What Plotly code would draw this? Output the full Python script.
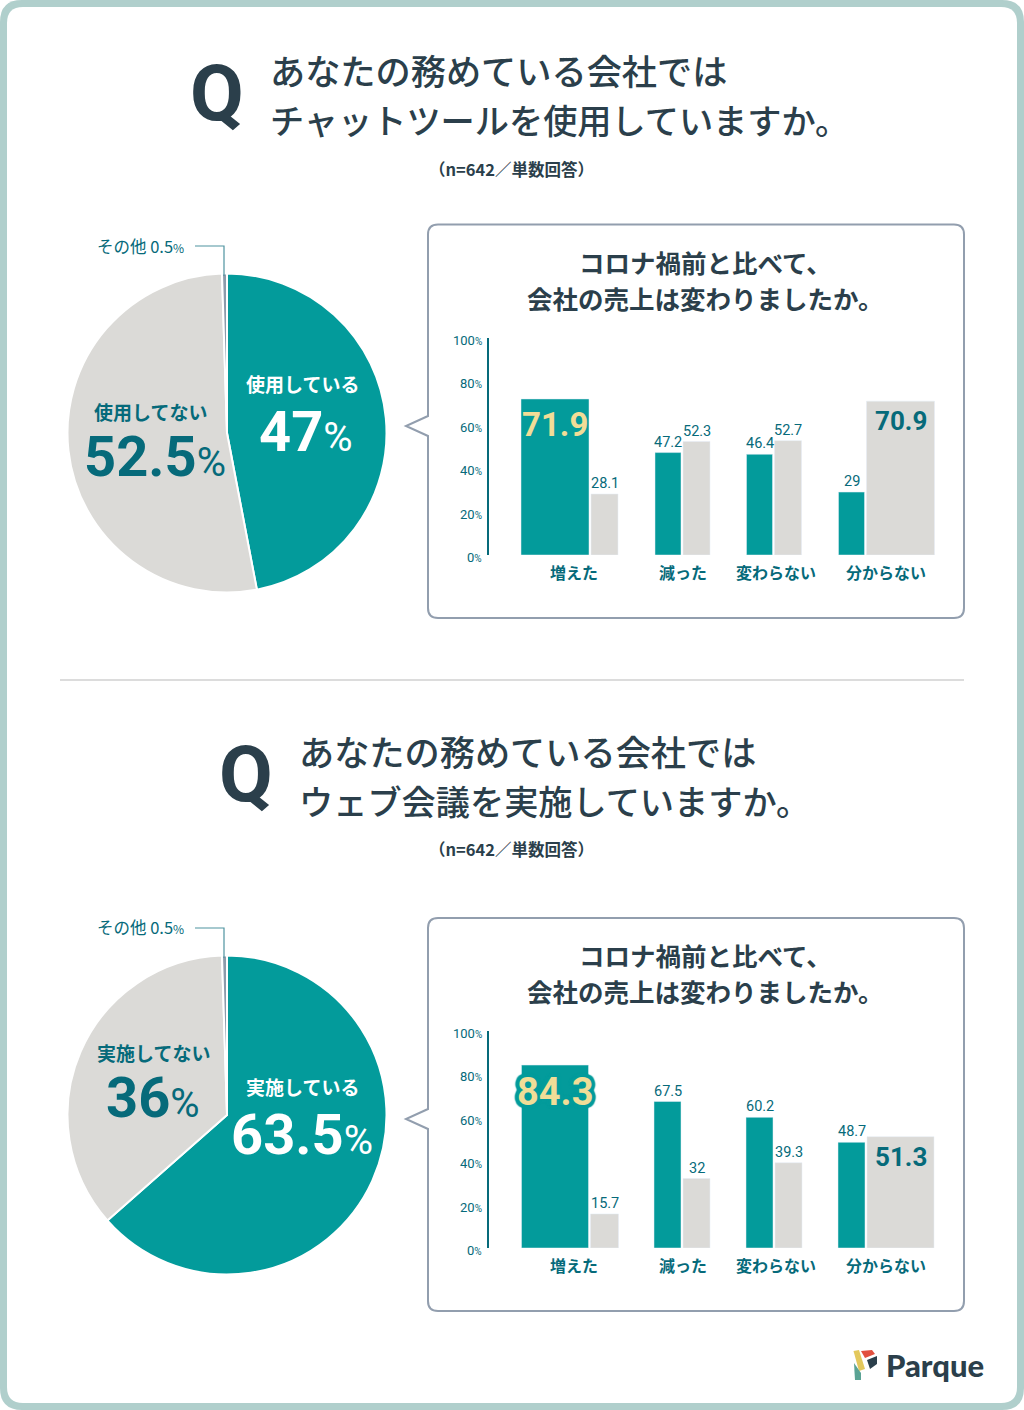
import plotly.graph_objects as go

W = 1024
H = 1410

# pie values (share of respondents)
pie1_labels = ['使用している', '使用してない', 'その他']
pie1_values = [47, 52.5, 0.5]
pie2_labels = ['実施している', '実施してない', 'その他']
pie2_values = [63.5, 36, 0.5]

# bars
categories = ['増えた', '減った', '変わらない', '分からない']
bar1_teal = [71.9, 47.2, 46.4, 29]
bar1_grey = [28.1, 52.3, 52.7, 70.9]
bar2_teal = [84.3, 67.5, 60.2, 48.7]
bar2_grey = [15.7, 32, 39.3, 51.3]
y_ticks = [0, 20, 40, 60, 80, 100]

TEAL = '#039b9b'
GREY = '#dbdad7'
INK = '#2b3f4b'
DEEP = '#066a7a'
YELLOW = '#f1dd97'
FRAME = '#b0cfcc'
EDGE = '#929eae'
JP = 'Noto Sans CJK JP'
JP_MED = 'Noto Sans CJK JP Medium, Noto Sans CJK JP'
NUM = 'Roboto'

# bar layout on the x axis (axis units are pixels of the 475px wide plot)
splits1 = [590, 682, 773.5, 865.5]
teal_w1 = [68, 26, 26, 26]
grey_w1 = [27, 27, 27, 68]
splits2 = [589.5, 682, 774, 866]
teal_w2 = [67, 27, 27, 27]
grey_w2 = [28, 27, 27, 67]
label_x = [574, 683, 776, 886]


def px(x):
    return x / W


def py(y):
    return 1 - y / H


def path(points):
    return 'M ' + ' L '.join(f'{px(x):.5f} {py(y):.5f}' for x, y in points) + ' Z'


def round_rect(x0, y0, x1, y1, r):
    return (f'M {px(x0 + r):.5f} {py(y0):.5f} L {px(x1 - r):.5f} {py(y0):.5f} '
            f'Q {px(x1):.5f} {py(y0):.5f} {px(x1):.5f} {py(y0 + r):.5f} '
            f'L {px(x1):.5f} {py(y1 - r):.5f} Q {px(x1):.5f} {py(y1):.5f} {px(x1 - r):.5f} {py(y1):.5f} '
            f'L {px(x0 + r):.5f} {py(y1):.5f} Q {px(x0):.5f} {py(y1):.5f} {px(x0):.5f} {py(y1 - r):.5f} '
            f'L {px(x0):.5f} {py(y0 + r):.5f} Q {px(x0):.5f} {py(y0):.5f} {px(x0 + r):.5f} {py(y0):.5f} Z')


def bubble(y0, y1, tip):
    x0, x1, r = 428, 964, 10
    return (f'M {px(x0 + r):.5f} {py(y0):.5f} L {px(x1 - r):.5f} {py(y0):.5f} '
            f'Q {px(x1):.5f} {py(y0):.5f} {px(x1):.5f} {py(y0 + r):.5f} '
            f'L {px(x1):.5f} {py(y1 - r):.5f} Q {px(x1):.5f} {py(y1):.5f} {px(x1 - r):.5f} {py(y1):.5f} '
            f'L {px(x0 + r):.5f} {py(y1):.5f} Q {px(x0):.5f} {py(y1):.5f} {px(x0):.5f} {py(y1 - r):.5f} '
            f'L {px(x0):.5f} {py(tip + 10):.5f} L {px(406):.5f} {py(tip):.5f} L {px(x0):.5f} {py(tip - 10):.5f} '
            f'L {px(x0):.5f} {py(y0 + r):.5f} Q {px(x0):.5f} {py(y0):.5f} {px(x0 + r):.5f} {py(y0):.5f} Z')


def txt(x, y, text, size, color=INK, weight=400, family=JP, anchor='center'):
    return dict(xref='paper', yref='paper', x=px(x), y=py(y), text=text, showarrow=False,
                xanchor=anchor, yanchor='middle', borderpad=0,
                font=dict(family=family, size=size, color=color, weight=weight))


def pct(x, y, value, color):
    return txt(x, y, f'<b>{value}</b><span style="font-size:40px">%</span>', 56, color=color, family=NUM)


fig = go.Figure()

# pies
for values, labels, top in [(pie1_values, pie1_labels, 274), (pie2_values, pie2_labels, 956)]:
    fig.add_trace(go.Pie(
        values=values, labels=labels, sort=False, direction='clockwise', rotation=0,
        textinfo='none', hoverinfo='label+percent', showlegend=False,
        marker=dict(colors=[TEAL, GREY, '#8c9bab'], line=dict(color='white', width=2)),
        domain=dict(x=[px(67.5), px(386.5)], y=[py(top + 318.5), py(top - 0.5)]),
    ))

# bars
halo = ','.join(f'{a}px {b}px 1px {TEAL}' for a, b in
                [(4, 0), (-4, 0), (0, 4), (0, -4), (3, 3), (-3, 3), (3, -3), (-3, -3)])
annotations = []
for teal, grey, splits, teal_w, grey_w, xa, ya in [
    (bar1_teal, bar1_grey, splits1, teal_w1, grey_w1, 'x', 'y'),
    (bar2_teal, bar2_grey, splits2, teal_w2, grey_w2, 'x2', 'y2'),
]:
    tx = [s - 1 - w / 2 for s, w in zip(splits, teal_w)]
    gx = [s + 1 + w / 2 for s, w in zip(splits, grey_w)]
    fig.add_trace(go.Bar(x=tx, y=teal, width=teal_w, marker_color=TEAL, xaxis=xa, yaxis=ya,
                         showlegend=False, name='teal'))
    fig.add_trace(go.Bar(x=gx, y=grey, width=grey_w, marker_color=GREY, xaxis=xa, yaxis=ya,
                         showlegend=False, name='grey'))
    for i in range(4):
        # wide bars carry their number inside, the rest sit on top of the bar
        for xpos, val, w, is_teal in [(tx[i], teal[i], teal_w[i], True), (gx[i], grey[i], grey_w[i], False)]:
            if w > 40 and is_teal:
                annotations.append(dict(
                    xref=xa, yref=ya, x=xpos, y=val, text=str(val), showarrow=False, yanchor='top',
                    yshift=-3 if val > 80 else -4,
                    font=dict(family=NUM, size=38 if val > 80 else 33, weight=700, color=YELLOW,
                              shadow=halo if val > 80 else 'none')))
            elif w > 40:
                annotations.append(dict(
                    xref=xa, yref=ya, x=xpos, y=val, text=str(val), showarrow=False, yanchor='top',
                    yshift=-3, font=dict(family=NUM, size=26, weight=700, color=DEEP)))
            else:
                annotations.append(dict(
                    xref=xa, yref=ya, x=xpos, y=val, text=str(val), showarrow=False, yanchor='bottom',
                    yshift=0, font=dict(family=NUM, size=14.5, color=DEEP)))
    # y tick labels sit slightly lower than the tick value in the reference
    for t in y_ticks:
        annotations.append(dict(
            xref='paper', yref=ya, x=px(484), y=t, yshift=-2.5, xanchor='right', showarrow=False,
            text=f'{t}<span style="font-size:10px">%</span>',
            font=dict(family=NUM, size=13, color=DEEP)))

# headings
annotations += [
    txt(217, 94, 'Q', 78, weight=700, family=NUM),
    txt(269, 69, 'あなたの務めている会社では', 35.2, weight=500, family=JP_MED, anchor='left'),
    txt(269, 119, 'チャットツールを使用していますか。', 34.2, weight=500, family=JP_MED, anchor='left'),
    txt(511, 169, '（n=642／単数回答）', 16.5, weight=700),
    txt(246, 774, 'Q', 78, weight=700, family=NUM),
    txt(298, 750, 'あなたの務めている会社では', 35.2, weight=500, family=JP_MED, anchor='left'),
    txt(298, 800, 'ウェブ会議を実施していますか。', 34.2, weight=500, family=JP_MED, anchor='left'),
    txt(511, 849, '（n=642／単数回答）', 16.5, weight=700),
    txt(705.5, 261, 'コロナ禍前と比べて、', 25.5, weight=700),
    txt(705.5, 297, '会社の売上は変わりましたか。', 25.5, weight=700),
    txt(705.5, 954, 'コロナ禍前と比べて、', 25.5, weight=700),
    txt(705.5, 990, '会社の売上は変わりましたか。', 25.5, weight=700),
    txt(140, 246, 'その他 0.5<span style="font-size:12px">%</span>', 16.5, color=DEEP),
    txt(140, 927, 'その他 0.5<span style="font-size:12px">%</span>', 16.5, color=DEEP),
    txt(302, 384, '使用している', 19, color='white', weight=700),
    txt(150, 411, '使用してない', 19, color=DEEP, weight=700),
    txt(302, 1086, '実施している', 19, color='white', weight=700),
    txt(153, 1052, '実施してない', 19, color=DEEP, weight=700),
    pct(306, 432, '47', 'white'),
    pct(155, 457, '52.5', DEEP),
    pct(302, 1135, '63.5', 'white'),
    pct(153, 1098, '36', DEEP),
    txt(935, 1365, 'Parque', 31, weight=900, family='Lato'),
]

shapes = [
    dict(type='path', xref='paper', yref='paper', path=round_rect(0, 0, 1024, 1410, 22),
         fillcolor=FRAME, line_width=0, layer='below'),
    dict(type='path', xref='paper', yref='paper', path=round_rect(7, 7, 1017, 1403, 16),
         fillcolor='white', line_width=0, layer='below'),
    dict(type='line', xref='paper', yref='paper', x0=px(60), x1=px(964), y0=py(680), y1=py(680),
         line=dict(color='#dcdcdc', width=2), layer='below'),
    dict(type='path', xref='paper', yref='paper', path=bubble(224.5, 618, 426),
         fillcolor='white', line=dict(color=EDGE, width=2), layer='below'),
    dict(type='path', xref='paper', yref='paper', path=bubble(918, 1311, 1119),
         fillcolor='white', line=dict(color=EDGE, width=2), layer='below'),
]
# leader lines for その他
for y in (246, 928):
    shapes.append(dict(type='path', xref='paper', yref='paper',
                       path=f'M {px(195)} {py(y)} L {px(224)} {py(y)} L {px(224)} {py(y + 30)}',
                       line=dict(color='#4f93a0', width=1.2)))
# logo
for pts, col in [
    ([(853.5, 1351), (859, 1350), (865, 1369), (859, 1371)], '#e3c85c'),
    ([(861, 1351), (872, 1350), (875, 1354), (865, 1358)], '#e2503f'),
    ([(867, 1360), (877, 1356), (877, 1364), (870, 1369)], INK),
    ([(854, 1363), (861, 1373), (861, 1380), (855, 1380)], '#5aa394'),
]:
    shapes.append(dict(type='path', xref='paper', yref='paper', path=path(pts),
                       fillcolor=col, line_width=0))

layout_axes = {}
for suffix, top, bottom in [('', 338, 555), ('2', 1031, 1248)]:
    layout_axes['xaxis' + suffix] = dict(
        domain=[px(489), px(964)], range=[489, 964], anchor='y' + suffix,
        tickvals=label_x, ticktext=categories, showgrid=False, zeroline=False, showline=False,
        ticks='', ticklabelstandoff=7, tickfont=dict(family=JP, size=16, color=DEEP, weight=700),
    )
    layout_axes['yaxis' + suffix] = dict(
        domain=[py(bottom), py(top)], range=[0, 100], anchor='x' + suffix,
        tickvals=y_ticks, showticklabels=False, showgrid=False, zeroline=False,
        showline=True, linecolor=DEEP, linewidth=2, ticks='',
    )

fig.update_layout(
    width=W, height=H, margin=dict(l=0, r=0, t=0, b=0),
    paper_bgcolor='white', plot_bgcolor='rgba(0,0,0,0)', barmode='overlay',
    annotations=annotations, shapes=shapes, **layout_axes,
)

fig.write_html('out.html', config=dict(displayModeBar=False),
               post_script="document.body.style.margin='0';")
